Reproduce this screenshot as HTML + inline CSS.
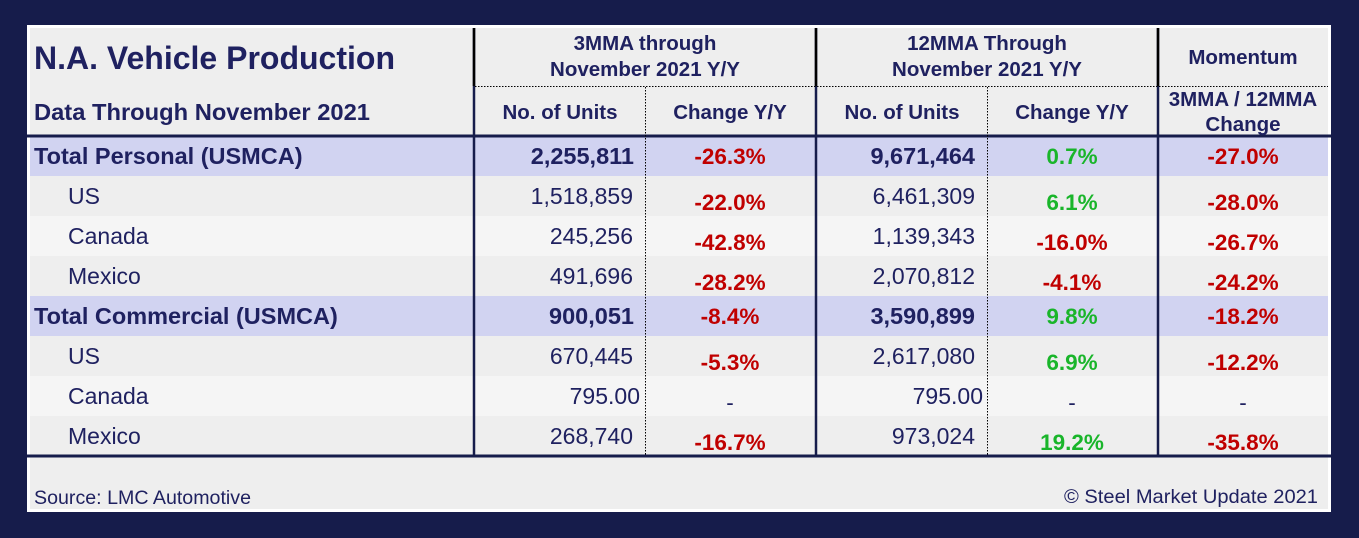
<!DOCTYPE html>
<html><head><meta charset="utf-8"><style>
html,body{margin:0;padding:0;background:#161C4B;}
svg{display:block;font-family:"Liberation Sans",Arial,sans-serif;}
</style></head><body>
<svg width="1359" height="538" viewBox="0 0 1359 538" xmlns="http://www.w3.org/2000/svg">
<rect x="0" y="0" width="1359" height="538" fill="#161C4B"/>
<rect x="27" y="25" width="1304" height="487" fill="#FFFFFF"/>
<rect x="30" y="28" width="1298" height="481" fill="#EEEEEE"/>
<rect x="30" y="137" width="1298" height="39" fill="#D1D3F1"/>
<rect x="30" y="176" width="1298" height="40" fill="#EEEEEE"/>
<rect x="30" y="216" width="1298" height="40" fill="#F5F5F5"/>
<rect x="30" y="256" width="1298" height="40" fill="#EEEEEE"/>
<rect x="30" y="296" width="1298" height="40" fill="#D1D3F1"/>
<rect x="30" y="336" width="1298" height="40" fill="#EEEEEE"/>
<rect x="30" y="376" width="1298" height="40" fill="#F5F5F5"/>
<rect x="30" y="416" width="1298" height="40" fill="#EEEEEE"/>
<g stroke="#161C4B">
<line x1="27" y1="136" x2="1331" y2="136" stroke-width="3"/>
<line x1="27" y1="456" x2="1331" y2="456" stroke-width="3"/>
<line x1="474" y1="28" x2="474" y2="456" stroke-width="2.5"/>
<line x1="816" y1="28" x2="816" y2="456" stroke-width="2.5"/>
<line x1="1158" y1="28" x2="1158" y2="456" stroke-width="2.5"/>
<line x1="475" y1="86.5" x2="1328" y2="86.5" stroke-width="1" stroke-dasharray="1.5,1.5" stroke="#000"/>
<line x1="645.5" y1="87" x2="645.5" y2="456" stroke-width="1" stroke-dasharray="1.5,1.5" stroke="#000"/>
<line x1="987.5" y1="87" x2="987.5" y2="456" stroke-width="1" stroke-dasharray="1.5,1.5" stroke="#000"/>
</g>
<g stroke="#000" stroke-width="2.5">
<line x1="474" y1="28" x2="474" y2="86"/>
<line x1="816" y1="28" x2="816" y2="86"/>
<line x1="1158" y1="28" x2="1158" y2="86"/>
</g>
<g fill="#1F2160" font-weight="bold">
<text x="34" y="69" font-size="32" textLength="361" lengthAdjust="spacingAndGlyphs">N.A. Vehicle Production</text>
<text x="34" y="120" font-size="23.5" textLength="336" lengthAdjust="spacingAndGlyphs">Data Through November 2021</text>
<g font-size="20.5" text-anchor="middle">
<text x="645" y="50">3MMA through</text>
<text x="645" y="76">November 2021 Y/Y</text>
<text x="987" y="50">12MMA Through</text>
<text x="987" y="76">November 2021  Y/Y</text>
<text x="1243" y="64">Momentum</text>
<text x="560" y="119">No. of Units</text>
<text x="730" y="119">Change Y/Y</text>
<text x="902" y="119">No. of Units</text>
<text x="1072" y="119">Change Y/Y</text>
<text x="1243" y="106">3MMA / 12MMA</text>
<text x="1243" y="131">Change</text>
</g>
<g font-size="23.5">
<text x="34" y="164">Total Personal (USMCA)</text>
<text x="34" y="324">Total Commercial (USMCA)</text>
<text x="634" y="164" text-anchor="end">2,255,811</text>
<text x="975" y="164" text-anchor="end">9,671,464</text>
<text x="634" y="324" text-anchor="end">900,051</text>
<text x="975" y="324" text-anchor="end">3,590,899</text>
</g>
</g>
<g fill="#1F2160" font-size="23">
<text x="68" y="204">US</text><text x="68" y="244">Canada</text><text x="68" y="284">Mexico</text>
<text x="68" y="364">US</text><text x="68" y="404">Canada</text><text x="68" y="444">Mexico</text>
<g text-anchor="end">
<text x="633" y="204">1,518,859</text><text x="975" y="204">6,461,309</text>
<text x="633" y="244">245,256</text><text x="975" y="244">1,139,343</text>
<text x="633" y="284">491,696</text><text x="975" y="284">2,070,812</text>
<text x="633" y="364">670,445</text><text x="975" y="364">2,617,080</text>
<text x="640" y="404">795.00</text><text x="983" y="404">795.00</text>
<text x="633" y="444">268,740</text><text x="975" y="444">973,024</text>
</g>
</g>
<g font-size="22.5" font-weight="bold" text-anchor="middle">
<g fill="#C00000">
<text x="730" y="164">-26.3%</text><text x="1243" y="164">-27.0%</text>
<text x="730" y="210">-22.0%</text><text x="1243" y="210">-28.0%</text>
<text x="730" y="250">-42.8%</text><text x="1072" y="250">-16.0%</text><text x="1243" y="250">-26.7%</text>
<text x="730" y="290">-28.2%</text><text x="1072" y="290">-4.1%</text><text x="1243" y="290">-24.2%</text>
<text x="730" y="324">-8.4%</text><text x="1243" y="324">-18.2%</text>
<text x="730" y="370">-5.3%</text><text x="1243" y="370">-12.2%</text>
<text x="730" y="450">-16.7%</text><text x="1243" y="450">-35.8%</text>
</g>
<g fill="#1F2160" font-weight="normal">
<text x="730" y="410">-</text><text x="1072" y="410">-</text><text x="1243" y="410">-</text>
</g>
<g fill="#19B52A">
<text x="1072" y="164">0.7%</text><text x="1072" y="210">6.1%</text>
<text x="1072" y="324">9.8%</text><text x="1072" y="370">6.9%</text>
<text x="1072" y="450">19.2%</text>
</g>
</g>
<g fill="#1F2160" font-size="19">
<text x="34" y="504" textLength="217" lengthAdjust="spacingAndGlyphs">Source: LMC Automotive</text>
<text x="1318" y="503" text-anchor="end" textLength="254" lengthAdjust="spacingAndGlyphs">© Steel Market Update 2021</text>
</g>
</svg>
</body></html>
